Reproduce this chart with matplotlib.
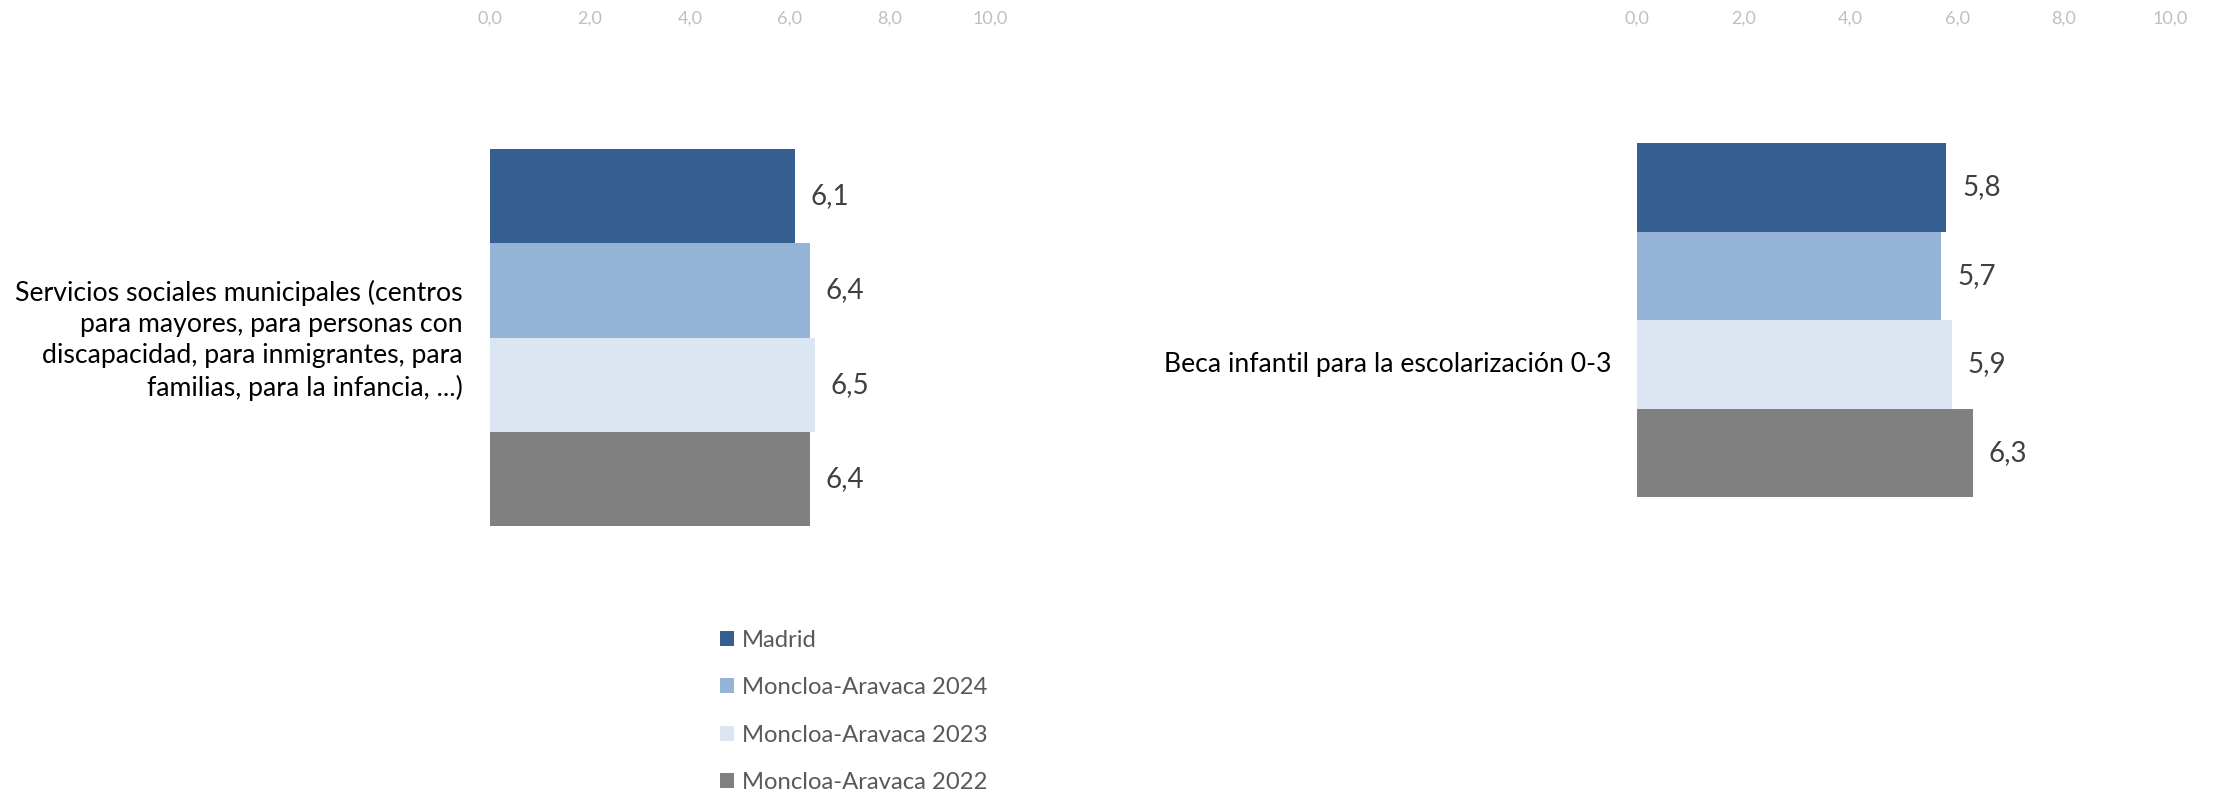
import matplotlib.pyplot as plt
from matplotlib.patches import Patch

# data
series = ["Madrid", "Moncloa-Aravaca 2024", "Moncloa-Aravaca 2023", "Moncloa-Aravaca 2022"]
colors = ["#365F91", "#95B3D7", "#DCE6F2", "#808080"]
cat_left = "Servicios sociales municipales (centros\npara mayores, para personas con\ndiscapacidad, para inmigrantes, para\nfamilias, para la infancia, ...)"
vals_left = [6.1, 6.4, 6.5, 6.4]
cat_right = "Beca infantil para la escolarización 0-3"
vals_right = [5.8, 5.7, 5.9, 6.3]
ticks = [0, 2, 4, 6, 8, 10]

plt.rcParams["font.family"] = ["Lato", "DejaVu Sans"]

W, H = 2213, 794
fig = plt.figure(figsize=(W / 100, H / 100), dpi=100)


def px_axes(x0, y0, x1, y1):
    # pixel box (top-left origin) -> figure axes
    return fig.add_axes([x0 / W, 1 - y1 / H, (x1 - x0) / W, (y1 - y0) / H])


def comma(v):
    return f"{v:.1f}".replace(".", ",")


def panel(box, xmax, vals, label, label_y, label_dx, pad):
    ax = px_axes(*box)
    ypos = range(len(vals))
    bars = ax.barh(ypos, vals, height=1.0, color=colors)
    ax.bar_label(bars, labels=[comma(v) for v in vals], padding=11.5,
                 fontsize=20, color="#404040")
    ax.set_xlim(0, xmax)
    ax.set_ylim(len(vals) - 0.5, -0.5)
    for s in ax.spines.values():
        s.set_visible(False)
    ax.set_yticks([])
    ax.xaxis.tick_top()
    ax.set_xticks(ticks)
    ax.set_xticklabels([comma(t) for t in ticks])
    ax.tick_params(axis="x", length=0, pad=pad, labelsize=13, colors="#BFBFBF")
    ax.text(-label_dx, label_y, label, ha="right", va="center",
            fontsize=19.2, color="black", linespacing=1.3)
    return ax


panel((490, 149, 1040, 526), 11.0, vals_left, cat_left, 1.53, 0.54, 88)
panel((1637, 143, 2197, 497), 10.5, vals_right, cat_right, 2.0, 0.47, 84)

handles = [Patch(facecolor=c, edgecolor="none") for c in colors]
leg = fig.legend(handles, series, loc="upper left",
                 bbox_to_anchor=(720 / W, 1 - 630 / H), frameon=False,
                 fontsize=17.2, handlelength=0.6, handleheight=0.6,
                 handletextpad=0.3, labelspacing=1.1, borderpad=0,
                 borderaxespad=0)
for t in leg.get_texts():
    t.set_color("#595959")

fig.savefig("out.png", dpi=100)
